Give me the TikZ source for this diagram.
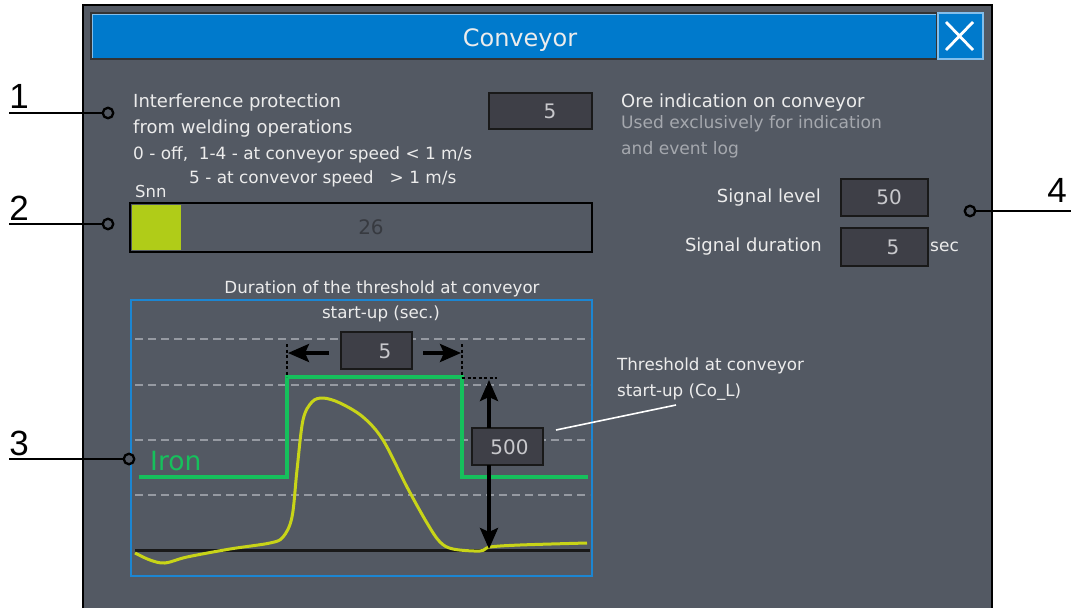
\documentclass[tikz,border=0pt]{standalone}
\usepackage{fontspec}
\setmainfont{DejaVu Sans}
\newfontfamily\calloutfont{Liberation Sans}
\usetikzlibrary{arrows.meta}
\definecolor{winbg}{RGB}{83,89,99}
\definecolor{titleblue}{RGB}{0,122,204}
\definecolor{closeedge}{RGB}{130,190,235}
\definecolor{uiwhite}{RGB}{236,236,236}
\definecolor{uigray}{RGB}{165,168,174}
\definecolor{fieldbg}{RGB}{62,63,71}
\definecolor{numgray}{RGB}{200,200,204}
\definecolor{bartext}{RGB}{55,58,64}
\definecolor{bargreen}{RGB}{176,204,24}
\definecolor{frameblue}{RGB}{28,134,210}
\definecolor{gridgray}{RGB}{150,154,162}
\definecolor{irongreen}{RGB}{22,192,92}
\definecolor{signalyellow}{RGB}{200,212,24}
\newcommand{\setfs}[1]{\fontsize{#1}{#1}\selectfont}
\begin{document}
\begin{tikzpicture}[x=1pt,y=-1pt,
  txt/.style={inner sep=0pt, text=uiwhite, anchor=base west},
  graytxt/.style={inner sep=0pt, text=uigray, anchor=base west},
  valtxt/.style={inner sep=0pt, text=numgray, anchor=base, font=\setfs{20}},
  field/.style={draw=black!90, fill=fieldbg, line width=1.5pt, inner sep=0pt},
  callout/.style={line width=2.6pt, draw=black},
  calloutnum/.style={inner sep=0pt, anchor=base, font=\calloutfont\setfs{35}, text=black},
  dot/.style={circle, draw=black, line width=2.3pt, fill=winbg, minimum size=10.5pt, inner sep=0pt},
  grid/.style={draw=gridgray, line width=1.5pt, dash pattern=on 8pt off 5pt},
  dimline/.style={draw=black, line width=1.8pt, dash pattern=on 3pt off 2.5pt},
  dimarrow/.style={draw=black, line width=3.6pt, -{Stealth[length=21pt,width=18pt,inset=4pt]}},
]
\path[use as bounding box, fill=white] (0,0) rectangle (1071,608);

% window
\fill[winbg] (83,5) rectangle (992,608);
\draw[black, line width=1.8pt] (83,608) -- (83,5) -- (992,5) -- (992,608);

% title bar
\node[draw=black!80, fill=titleblue, line width=1.6pt, minimum width=846pt, minimum height=46pt, inner sep=0pt] (titlebar) at (514,36) {};
\draw[closeedge, line width=1pt] (92,58) -- (92,14) -- (936,14);
\node[inner sep=0pt, anchor=base, text=uiwhite, font=\setfs{24}] (title) at (520,46) {Conveyor};
\node[draw=closeedge, fill=titleblue, line width=1.6pt, minimum width=45pt, minimum height=46pt, inner sep=0pt] (closebtn) at (960.5,36) {};
\draw[white, line width=2.8pt] (946,22) -- (973,50) (973,22) -- (946,50);

% section 1 texts
\node[txt, font=\setfs{18}] (ip1) at (133,107) {Interference protection};
\node[txt, font=\setfs{18}] (ip2) at (133,133) {from welding operations};
\node[txt, font=\setfs{16.9}] (ip3) at (133,159) {0 - off,\ \ 1-4 - at conveyor speed < 1 m/s};
\node[txt, font=\setfs{16.9}] (ip4) at (189,183) {5 - at convevor speed\ \ \ > 1 m/s};
\node[txt, font=\setfs{16.5}] (snn) at (135,197) {Snn};
\node[field, minimum width=103pt, minimum height=36pt] (f1) at (540.5,111) {};
\node[valtxt] (v1) at (550,118) {5};

% bar
\node[draw=black, line width=1.8pt, minimum width=462pt, minimum height=49pt, inner sep=0pt] (bar) at (361,227.5) {};
\fill[bargreen] (132,205) rectangle (181,250);
\node[inner sep=0pt, anchor=base, text=bartext, font=\setfs{20}] (v26) at (371,234) {26};

% right side
\node[txt, font=\setfs{18}] (ore1) at (621,107) {Ore indication on conveyor};
\node[graytxt, font=\setfs{17.1}] (ore2) at (621,128) {Used exclusively for indication};
\node[graytxt, font=\setfs{17.1}] (ore3) at (621,154) {and event log};
\node[txt, font=\setfs{18}, anchor=base east] (sl) at (821,202) {Signal level};
\node[field, minimum width=87pt, minimum height=37pt] (f2) at (884.5,197.5) {};
\node[valtxt] (v2) at (889,204) {50};
\node[txt, font=\setfs{18}, anchor=base east] (sd) at (822,251) {Signal duration};
\node[field, minimum width=87pt, minimum height=38pt] (f3) at (884.5,247) {};
\node[valtxt] (v3) at (893,254) {5};
\node[txt, font=\setfs{17}] (sec) at (930,251) {sec};

% graph
\node[inner sep=0pt, anchor=base, text=uiwhite, font=\setfs{16.7}] (cap1) at (382,293) {Duration of the threshold at conveyor};
\node[draw=frameblue, line width=2.2pt, minimum width=461pt, minimum height=276pt, inner sep=0pt] (frame) at (361.5,438) {};
\node[inner sep=0pt, anchor=base, text=uiwhite, font=\setfs{16.7}] (cap2) at (381,318) {start-up (sec.)};
\draw[grid] (135,339) -- (590,339);
\draw[grid] (135,385) -- (590,385);
\draw[grid] (135,440) -- (590,440);
\draw[grid] (135,495) -- (590,495);
\draw[black!90, line width=3pt] (135,550) -- (590,550);
\draw[irongreen, line width=3.2pt] (139,477) -- (287,477) -- (287,377) -- (462,377) -- (462,477) -- (588,477);
\node[inner sep=0pt, anchor=base west, text=irongreen, font=\setfs{26.5}] (iron) at (150,470) {Iron};
\draw[signalyellow, line width=3pt] plot[smooth, tension=0.55] coordinates {
 (135,553) (150,560) (165,563) (187,557) (230,549) (270,543) (283,537) (292,517)
 (297,470) (303,420) (312,402) (323,398) (340,403) (363,417) (383,440) (407,487)
 (427,523) (440,542) (453,549) (480,551) (490,547) (520,545) (587,543)};

% dimension for duration
\draw[dimline] (287,344) -- (287,377);
\draw[dimline] (462,344) -- (462,377);
\draw[dimline] (462,378) -- (497,378);
\node[field, minimum width=71pt, minimum height=37pt] (f4) at (376.5,350.5) {};
\node[valtxt] (v4) at (385,358) {5};
\coordinate (la) at (329,353);
\coordinate (lb) at (288,353);
\coordinate (ra) at (423,353);
\coordinate (rb) at (461,353);
\draw[dimarrow] (la) -- (lb);
\draw[dimarrow] (ra) -- (rb);

% dimension for threshold
\node[field, minimum width=71pt, minimum height=37pt] (f5) at (507.5,446.5) {};
\node[valtxt] (v5) at (509.5,454) {500};
\coordinate (ua) at (489,428);
\coordinate (ub) at (489,380);
\coordinate (da) at (489,465);
\coordinate (db) at (489,549);
\draw[dimarrow] (ua) -- (ub);
\draw[dimarrow] (da) -- (db);

% threshold label
\node[txt, font=\setfs{16.7}] (th1) at (617,370) {Threshold at conveyor};
\node[txt, font=\setfs{16.7}] (th2) at (617,396) {start-up (Co\_L)};
\coordinate (lead1) at (556,430);
\coordinate (lead2) at (676,405);
\draw[white, line width=1.6pt] (lead1) -- (lead2);

% callouts
\node[calloutnum] (n1) at (19,108) {1};
\node[dot] (c1) at (108,113) {};
\coordinate (e1) at (9,113);
\draw[callout] (e1) -- (c1.west);

\node[calloutnum] (n2) at (19,220) {2};
\node[dot] (c2) at (108,224) {};
\coordinate (e2) at (9,224);
\draw[callout] (e2) -- (c2.west);

\node[calloutnum] (n3) at (19,455) {3};
\node[dot] (c3) at (129,459) {};
\coordinate (e3) at (9,459);
\draw[callout] (e3) -- (c3.west);

\node[calloutnum] (n4) at (1057,202) {4};
\node[dot] (c4) at (970,211) {};
\coordinate (e4) at (1071,211);
\draw[callout] (c4.east) -- (e4);
\end{tikzpicture}
\end{document}
